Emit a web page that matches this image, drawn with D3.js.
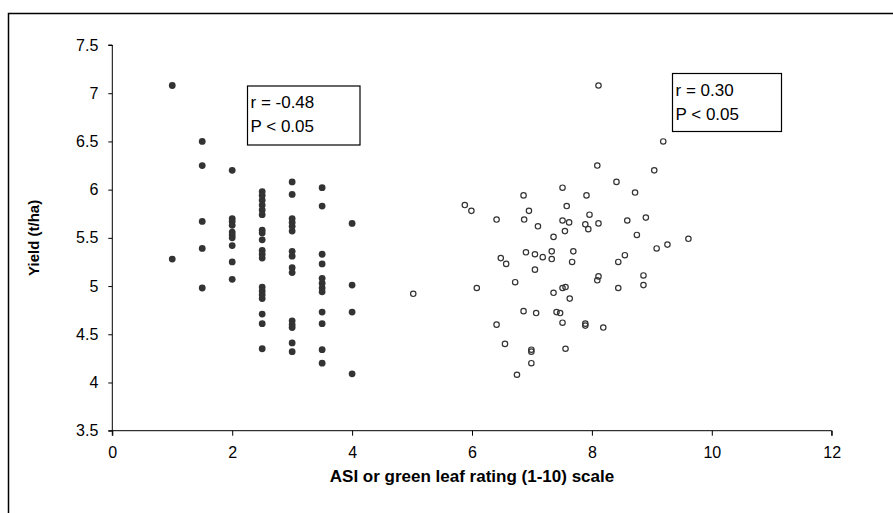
<!DOCTYPE html>
<html>
<head>
<meta charset="utf-8">
<script src="https://cdn.jsdelivr.net/npm/d3@7"></script>
<style>
  html, body { margin: 0; padding: 0; background: #fff; }
  svg { display: block; }
  text { font-family: "Liberation Sans", Arial, sans-serif; fill: #000; }
</style>
</head>
<body>
<svg id="chart" width="893" height="513"></svg>
<script>
// ASI rating (filled dots)
const asiX = [1,1,
  1.5,1.5,1.5,1.5,1.5,
  2,2,2,2,2,2,2,2,2,2,
  2.5,2.5,2.5,2.5,2.5,2.5,2.5,2.5,2.5,2.5,2.5,2.5,2.5,2.5,2.5,2.5,2.5,2.5,2.5,
  3,3,3,3,3,3,3,3,3,3,3,3,3,3,3,
  3.5,3.5,3.5,3.5,3.5,3.5,3.5,3.5,3.5,3.5,3.5,3.5,
  4,4,4,4];
const asiYield = [7.08,5.28,
  6.50,6.25,5.67,5.39,4.98,
  6.20,5.70,5.67,5.63,5.56,5.53,5.50,5.42,5.25,5.07,
  5.98,5.94,5.89,5.84,5.79,5.74,5.58,5.55,5.48,5.37,5.33,5.29,4.99,4.95,4.91,4.87,4.71,4.61,4.35,
  6.08,5.95,5.70,5.66,5.62,5.57,5.36,5.31,5.19,5.14,4.64,4.60,4.57,4.41,4.32,
  6.02,5.83,5.33,5.23,5.08,5.03,4.98,4.94,4.73,4.61,4.34,4.20,
  5.65,5.01,4.73,4.09];

// Green leaf rating (hollow dots)
const greenX = [5.02,5.88,5.99,6.41,6.86,6.95,6.87,7.10,7.36,
  8.11,9.19,8.09,9.04,8.41,7.51,8.72,7.91,7.58,7.96,8.90,7.51,7.62,8.59,7.89,8.11,7.94,7.55,8.75,9.61,
  7.33,7.69,7.33,7.67,8.55,8.44,9.08,9.26,8.86,8.86,8.11,8.09,7.36,7.51,7.56,7.63,8.44,7.41,7.47,7.51,7.89,7.89,8.19,7.56,
  6.48,6.57,6.90,7.05,7.18,7.05,6.72,6.08,6.86,7.07,6.41,6.55,6.99,6.99,6.99,6.75];
const greenYield = [4.92,5.84,5.78,5.69,5.94,5.78,5.69,5.62,5.51,
  7.08,6.50,6.25,6.20,6.08,6.02,5.97,5.94,5.83,5.74,5.71,5.68,5.66,5.68,5.64,5.65,5.59,5.57,5.53,5.49,
  5.36,5.36,5.28,5.25,5.32,5.25,5.39,5.43,5.11,5.01,5.10,5.06,4.93,4.98,4.99,4.87,4.98,4.73,4.72,4.62,4.61,4.59,4.57,4.35,
  5.29,5.23,5.35,5.33,5.30,5.17,5.04,4.98,4.74,4.72,4.60,4.40,4.34,4.32,4.20,4.08];

const xTicks = [0,2,4,6,8,10,12];
const yTicks = [3.5,4,4.5,5,5.5,6,6.5,7,7.5];
const xDomain = [0,12];
const yDomain = [3.5,7.5];

const xTitle = "ASI or green leaf rating (1-10) scale";
const yTitle = "Yield (t/ha)";
const stats = [
  {lines: ["r = -0.48", "P < 0.05"]},
  {lines: ["r = 0.30", "P < 0.05"]}
];

const svg = d3.select("#chart");
const L = 112.3, R = 831.7, T = 45, B = 430.7;
const x = d3.scaleLinear().domain(xDomain).range([L, R]);
const y = d3.scaleLinear().domain(yDomain).range([B, T]);

// outer frame
svg.append("path")
  .attr("d", "M8.5,513 L8.5,13.5 L893,13.5")
  .attr("fill", "none").attr("stroke", "#000").attr("stroke-width", 1.5);

// axes
const yAxis = d3.axisLeft(y).tickValues(yTicks).tickSize(4).tickPadding(10)
  .tickFormat(d => d3.format("")(d));
const xAxis = d3.axisBottom(x).tickValues(xTicks).tickSize(5).tickPadding(11);

const gy = svg.append("g").attr("transform", `translate(${L},0)`).call(yAxis);
const gx = svg.append("g").attr("transform", `translate(0,${B})`).call(xAxis);
[gx, gy].forEach(g => {
  g.select(".domain").attr("stroke", "#000").attr("stroke-width", 1);
  g.selectAll(".tick line").attr("stroke", "#000").attr("stroke-width", 1);
  g.selectAll(".tick text").style("font-family", "'Liberation Sans', Arial, sans-serif")
    .style("font-size", "16px").attr("fill", "#111");
});
gy.select(".domain").attr("d", `M-4,${T}H0V${B}H-4`);
gx.select(".domain").attr("d", `M${L},5V0H${R}V5`);

// titles
svg.append("text").attr("x", (L + R) / 2).attr("y", 482)
  .attr("text-anchor", "middle").style("font-size", "17px").style("font-weight", "bold")
  .text(xTitle);
svg.append("text").attr("transform", `translate(39,${(T + B) / 2}) rotate(-90)`)
  .attr("text-anchor", "middle").style("font-size", "15px").style("font-weight", "bold")
  .text(yTitle);

// points
const filled = asiX.map((d, i) => ({x: d, y: asiYield[i]}));
const hollow = greenX.map((d, i) => ({x: d, y: greenYield[i]}));

svg.append("g").selectAll("circle").data(filled).join("circle")
  .attr("cx", d => x(d.x)).attr("cy", d => y(d.y)).attr("r", 3.4)
  .attr("fill", "#333");
svg.append("g").selectAll("circle").data(hollow).join("circle")
  .attr("cx", d => x(d.x)).attr("cy", d => y(d.y)).attr("r", 2.7)
  .attr("fill", "none").attr("stroke", "#333").attr("stroke-width", 1.2);

// stat boxes
const boxes = [
  {x0: 247.5, y0: 86, w: 112.5, h: 59},
  {x0: 672.5, y0: 73.5, w: 109, h: 58}
];
boxes.forEach((b, i) => {
  const g = svg.append("g");
  g.append("rect").attr("x", b.x0).attr("y", b.y0).attr("width", b.w).attr("height", b.h)
    .attr("fill", "#fff").attr("stroke", "#000").attr("stroke-width", 1.2);
  stats[i].lines.forEach((t, j) => {
    g.append("text").attr("x", b.x0 + 3).attr("y", b.y0 + 22 + j * 24)
      .style("font-size", "17px").text(t);
  });
});
</script>
</body>
</html>
